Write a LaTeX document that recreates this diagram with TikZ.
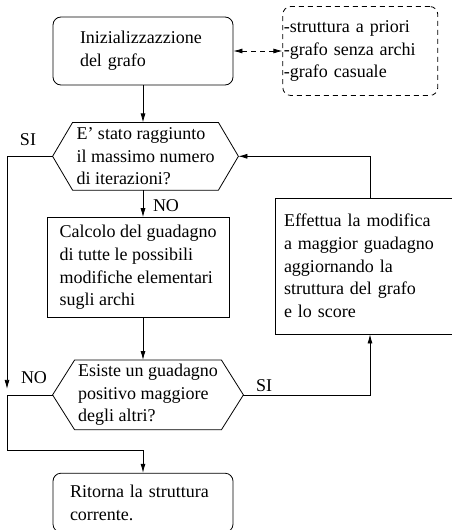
\documentclass[tikz,border=0pt]{standalone}
\usepackage{fontspec}
\setmainfont{Liberation Serif}
\usetikzlibrary{arrows.meta, positioning}

\begin{document}
\begin{tikzpicture}[x=1pt, y=-1pt, font=\fontsize{18}{22.7}\selectfont, line width=0.8pt, >={Latex[length=9pt,width=5pt]}]
	\tikzset{
		termnode/.style={rectangle, rounded corners=8pt, draw=black, inner sep=0pt, align=left},
		stepnode/.style={rectangle, draw=black, inner sep=0pt, align=left},
		decnode/.style={rectangle, inner sep=0pt, align=left},
		notenode/.style={rectangle, rounded corners=8pt, draw=black, dash pattern=on 5pt off 4pt, inner sep=0pt, align=left},
		lbl/.style={inner sep=0pt},
	}
	\useasboundingbox (0,0) rectangle (452,530);
	\coordinate (col) at (143,0);
	\coordinate (rail) at (7,0);

	\node[termnode, minimum width=180pt, minimum height=68pt, text width=126pt] (init) at (143,51) {Inizializzazzione\\del grafo};
	\node[notenode, minimum width=155pt, minimum height=89pt, text width=153pt, right=49pt of init] (opts) {-struttura a priori\\-grafo senza archi\\-grafo casuale};

	\draw[<->, dash pattern=on 5pt off 4pt] (init.east) -- (opts.west);

	\node[decnode, minimum width=185pt, minimum height=67pt, below=37pt of init, xshift=2.5pt] (iter) {E' stato raggiunto\\il massimo numero\\di iterazioni?};
	\node[stepnode, minimum width=182pt, minimum height=100pt, below=27pt of iter, xshift=-7.5pt] (calc) {Calcolo del guadagno\\di tutte le possibili\\modifiche elementari\\sugli archi};
	\node[decnode, minimum width=190pt, minimum height=69pt, below=42pt of calc, xshift=10pt] (gain) {Esiste un guadagno\\positivo maggiore\\degli altri?};
	\node[termnode, minimum width=180pt, minimum height=59pt, text width=146pt, below=43pt of gain, xshift=-5pt] (ret) {Ritorna la struttura\\corrente.};
	\node[stepnode, minimum width=190pt, minimum height=136pt, text width=172pt] (upd) at (370,266) {Effettua la modifica\\a maggior guadagno\\aggiornando la\\struttura del grafo\\e lo score};

	% hexagons round the two questions
	\foreach \h/\p in {iter/20, gain/22}
		\draw (\h.west) -- ([xshift=\p pt]\h.north west) -- ([xshift=-\p pt]\h.north east) -- (\h.east)
			-- ([xshift=-\p pt]\h.south east) -- ([xshift=\p pt]\h.south west) -- cycle;

	\node[lbl] (si1) at (28,140) {SI};
	\node[lbl] (no1) at (166,206) {NO};
	\node[lbl] (no2) at (34,378) {NO};
	\node[lbl] (si2) at (264,386) {SI};

	\draw[->] (init.south) -- (col |- iter.north);
	\draw[->] (col |- iter.south) -- (col |- calc.north);
	\draw[->] (col |- calc.south) -- (col |- gain.north);

	\draw[->] (iter.west) -| ([yshift=6pt]rail |- gain.west);
	\draw[->] (gain.west) -- (rail |- gain.west) -- ([yshift=22pt]rail |- ret.north) -| (col |- ret.north);

	\draw[->] (gain.east) -| (upd.south);
	\draw[->] (upd.north) |- (iter.east);
\end{tikzpicture}
\end{document}
